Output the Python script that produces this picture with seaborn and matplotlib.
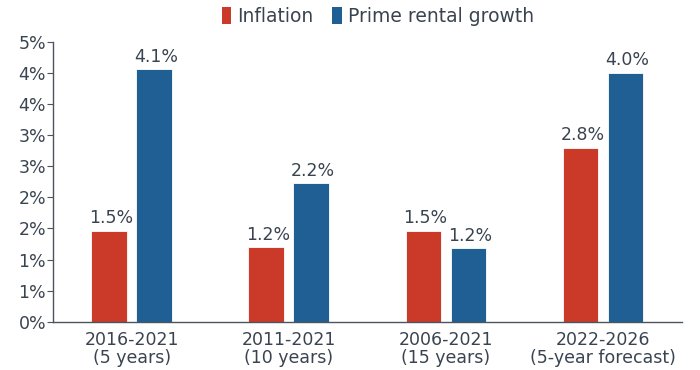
import matplotlib
matplotlib.use("Agg")
import matplotlib.pyplot as plt
import seaborn as sns
import pandas as pd
from matplotlib.patches import Patch

categories = ["2016-2021\n(5 years)", "2011-2021\n(10 years)", "2006-2021\n(15 years)", "2022-2026\n(5-year forecast)"]
inflation = [1.46, 1.20, 1.46, 2.80]
prime_rental = [4.06, 2.23, 1.18, 4.00]
series_names = ["Inflation", "Prime rental growth"]
ytick_values = [0, 0.5, 1.0, 1.5, 2.0, 2.5, 3.0, 3.5, 4.0, 4.5]
ytick_labels = ["0%", "1%", "1%", "2%", "2%", "3%", "3%", "4%", "4%", "5%"]

RED = "#cb3a29"
BLUE = "#1f5f93"
TEXT = "#3a4450"
SPINE = "#4a5560"
FS = 12.5

sns.set_theme(style="white")
plt.rcParams["font.family"] = ["DejaVu Sans"]

df = pd.DataFrame({
    "period": categories * 2,
    "series": [series_names[0]] * 4 + [series_names[1]] * 4,
    "value": inflation + prime_rental,
})

fig = plt.figure(figsize=(7.0, 3.7), dpi=100)
ax = fig.add_axes([0.0757, 0.1305, 0.898, 0.7565])

sns.barplot(data=df, x="period", y="value", hue="series", order=categories,
            hue_order=series_names, palette=[RED, BLUE], saturation=1,
            width=0.573, gap=0.21, edgecolor="white", linewidth=0.6,
            legend=False, ax=ax)

for cont in ax.containers:
    for bar in cont:
        h = bar.get_height()
        ax.annotate(f"{h:.1f}%", (bar.get_x() + bar.get_width() / 2, h),
                    xytext=(1.5, 2.5), textcoords="offset points",
                    ha="center", va="bottom", fontsize=FS, color=TEXT)

ax.set_ylim(0, 4.5)
ax.set_xlim(-0.5, 3.5)
ax.set_yticks(ytick_values)
ax.set_yticklabels(ytick_labels)
ax.set_xlabel("")
ax.set_ylabel("")
ax.tick_params(axis="y", which="both", left=True, length=4, width=0.8, color=SPINE,
               labelsize=FS, labelcolor=TEXT, pad=1)
ax.tick_params(axis="x", bottom=False, labelsize=FS, labelcolor=TEXT, pad=0.5)
for lbl in ax.get_xticklabels():
    lbl.set_linespacing(1.05)
for s in ["top", "right"]:
    ax.spines[s].set_visible(False)
for s in ["left", "bottom"]:
    ax.spines[s].set_color(SPINE)
    ax.spines[s].set_linewidth(1.0)

handles = [Patch(facecolor=RED, edgecolor="none"), Patch(facecolor=BLUE, edgecolor="none")]
fig.legend(handles, series_names, loc="center", bbox_to_anchor=(0.54, 0.955), ncol=2,
           frameon=False, fontsize=13.5, handlelength=0.5, handleheight=1.0,
           handletextpad=0.35, columnspacing=1.0, labelcolor=TEXT)

fig.savefig("out.png", dpi=100)
